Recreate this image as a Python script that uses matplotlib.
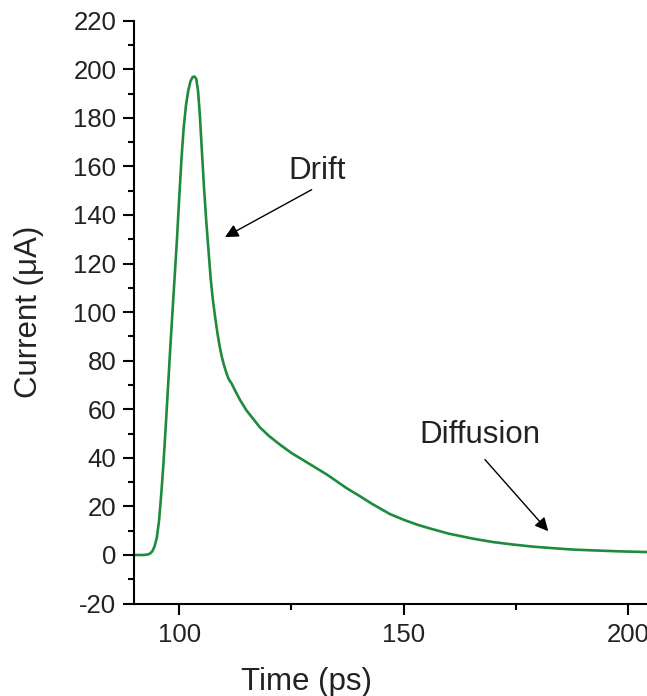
import numpy as np
import matplotlib
matplotlib.use('Agg')
import matplotlib.pyplot as plt
from matplotlib.ticker import MultipleLocator

plt.rcParams['font.family'] = ['Liberation Sans', 'DejaVu Sans']
plt.rcParams['axes.unicode_minus'] = False

# transient current pulse (time in ps, current in uA)
time_ps = [90, 92, 93, 93.5, 94, 94.5, 95, 95.5, 96, 96.5, 97, 97.5, 98,
           98.5, 99, 99.5, 100, 100.5, 101, 101.5, 102, 102.5, 103, 103.4,
           103.8, 104.2, 104.6, 105, 105.5, 106, 106.5, 107, 107.5, 108,
           108.5, 109, 109.5, 110, 110.5, 111, 111.7, 112.5, 113.5, 115,
           116.5, 118, 120, 122.4, 125, 127.5, 129.9, 133, 137.3, 140, 143,
           146.9, 150, 153, 155.9, 160, 165.5, 170, 174.4, 179, 184.1, 188,
           193, 198, 204.3]
current_ua = [0, 0, 0.2, 0.6, 1.5, 3.5, 7, 14, 25, 38, 53, 69, 85,
              100, 115, 130, 147, 163, 176, 185, 191, 195, 196.8, 197,
              196, 191, 181, 168, 152, 138, 126, 114, 105, 98,
              91.5, 86, 81.5, 78, 75, 72.5, 70.5, 67.5, 64, 59.5,
              56, 52.5, 49, 45.5, 42, 39.2, 36.5, 33, 27.5, 24.5, 21,
              16.9, 14.5, 12.5, 10.9, 8.8, 6.7, 5.3, 4.3, 3.4, 2.7, 2.2,
              1.85, 1.5, 1.2]

fig = plt.figure(figsize=(6.47, 6.96), dpi=100)
ax = fig.add_axes([0.2076, 0.1328, 0.7924, 0.8375])

ax.plot(time_ps, current_ua, color='#1e8b3c', lw=1.9)

ax.set_xlim(90, 204.2)
ax.set_ylim(-20, 220)
ax.xaxis.set_major_locator(MultipleLocator(50))
ax.xaxis.set_minor_locator(MultipleLocator(25))
ax.yaxis.set_major_locator(MultipleLocator(20))
ax.yaxis.set_minor_locator(MultipleLocator(10))

for side in ['top', 'right']:
    ax.spines[side].set_visible(False)
for side in ['left', 'bottom']:
    ax.spines[side].set_linewidth(1.5)

ax.tick_params(which='major', direction='out', length=8, width=1.5,
               labelsize=18.5, pad=5, labelcolor='#222222')
ax.tick_params(which='minor', direction='out', length=4.5, width=1.5)
ax.tick_params(axis='x', which='major', pad=6)

ax.set_xlabel('Time (ps)', fontsize=22.5, color='#222222')
ax.set_ylabel('Current (μA)', fontsize=22.5, color='#222222')
ax.xaxis.set_label_coords(0.335, -0.108)
ax.yaxis.set_label_coords(-0.176, 0.5)

arrow = dict(arrowstyle='-|>', color='black', lw=1.0, mutation_scale=20,
             shrinkA=0, shrinkB=0)
ax.annotate('', xy=(110.2, 130.9), xytext=(129.5, 150.4), arrowprops=arrow)
ax.text(130.7, 158.3, 'Drift', fontsize=22.5, ha='center', va='center',
        color='#222222')

ax.annotate('', xy=(182.2, 9.8), xytext=(168.1, 39.3), arrowprops=arrow)
ax.text(166.9, 49.3, 'Diffusion', fontsize=22.5, ha='center', va='center',
        color='#222222')

fig.savefig('out.png', dpi=100)
